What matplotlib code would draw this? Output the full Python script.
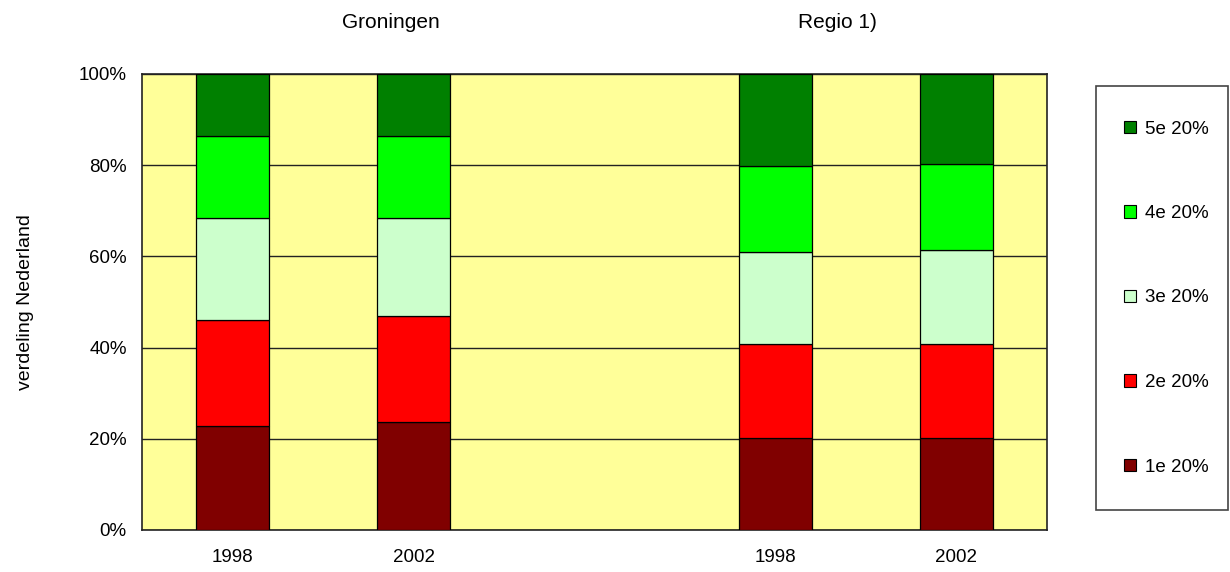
import matplotlib.pyplot as plt
from matplotlib.patches import Patch, Rectangle
import numpy as np

plt.rcParams['font.family'] = ['Liberation Sans', 'DejaVu Sans']

# Data
slot_pos = [0, 1, 3, 4]
tick_labels = ["1998", "2002", "1998", "2002"]
group_titles = ["Groningen", "Regio 1)"]
series_names = ["1e 20%", "2e 20%", "3e 20%", "4e 20%", "5e 20%"]
first_20 = [22.8, 23.7, 20.1, 20.1]
second_20 = [23.3, 23.2, 20.7, 20.7]
third_20 = [22.3, 21.5, 20.1, 20.5]
fourth_20 = [17.9, 17.9, 18.9, 18.9]
fifth_20 = [13.7, 13.7, 20.2, 19.8]
colors = ["#800000", "#FF0000", "#CCFFCC", "#00FF00", "#008000"]

series = [first_20, second_20, third_20, fourth_20, fifth_20]

fig = plt.figure(figsize=(12.3, 5.72), dpi=100)
ax = fig.add_axes([142 / 1230, 1 - 530 / 572, 905 / 1230, 456 / 572])
ax.set_facecolor("#FFFF99")

bottom = np.zeros(len(slot_pos))
for vals, col, name in zip(series, colors, series_names):
    ax.bar(slot_pos, vals, width=0.4, bottom=bottom, color=col,
           edgecolor="black", linewidth=0.9, label=name, zorder=3)
    bottom += np.array(vals)

ax.set_xlim(-0.5, 4.5)
ax.set_ylim(0, 100)
ax.set_yticks([0, 20, 40, 60, 80, 100])
ax.set_yticklabels(["0%", "20%", "40%", "60%", "80%", "100%"])
ax.set_xticks(slot_pos)
ax.set_xticklabels(tick_labels)
ax.tick_params(axis="both", length=0, labelsize=13.5)
ax.tick_params(axis="x", pad=14)
ax.tick_params(axis="y", pad=11)
ax.yaxis.grid(True, color="#222222", linewidth=1.0, zorder=0)
ax.set_axisbelow(True)
for s in ax.spines.values():
    s.set_color("#222222")
    s.set_linewidth(1.2)

ax.set_ylabel("verdeling Nederland", fontsize=14)
ax.yaxis.set_label_coords(-(142 - 34) / 905, 0.5)

# group titles
fig.text(391 / 1230, 1 - 23 / 572, group_titles[0], fontsize=15, ha="center", va="center")
fig.text(837 / 1230, 1 - 23 / 572, group_titles[1], fontsize=15, ha="center", va="center")

# legend with a hand-drawn frame
fig.patches.append(Rectangle((1096 / 1230, 1 - 510 / 572), 132 / 1230, 424 / 572,
                             transform=fig.transFigure, facecolor="white",
                             edgecolor="#444444", linewidth=1.2))
handles = [Patch(facecolor=c, edgecolor="black", linewidth=0.8) for c in colors][::-1]
leg = fig.legend(handles, series_names[::-1], loc="center left",
                 bbox_to_anchor=(1107 / 1230, 1 - 298 / 572), frameon=False,
                 fontsize=13.5, labelspacing=3.6, handlelength=0.65,
                 handleheight=0.65, handletextpad=0.5)

fig.savefig("out.png", dpi=100)
